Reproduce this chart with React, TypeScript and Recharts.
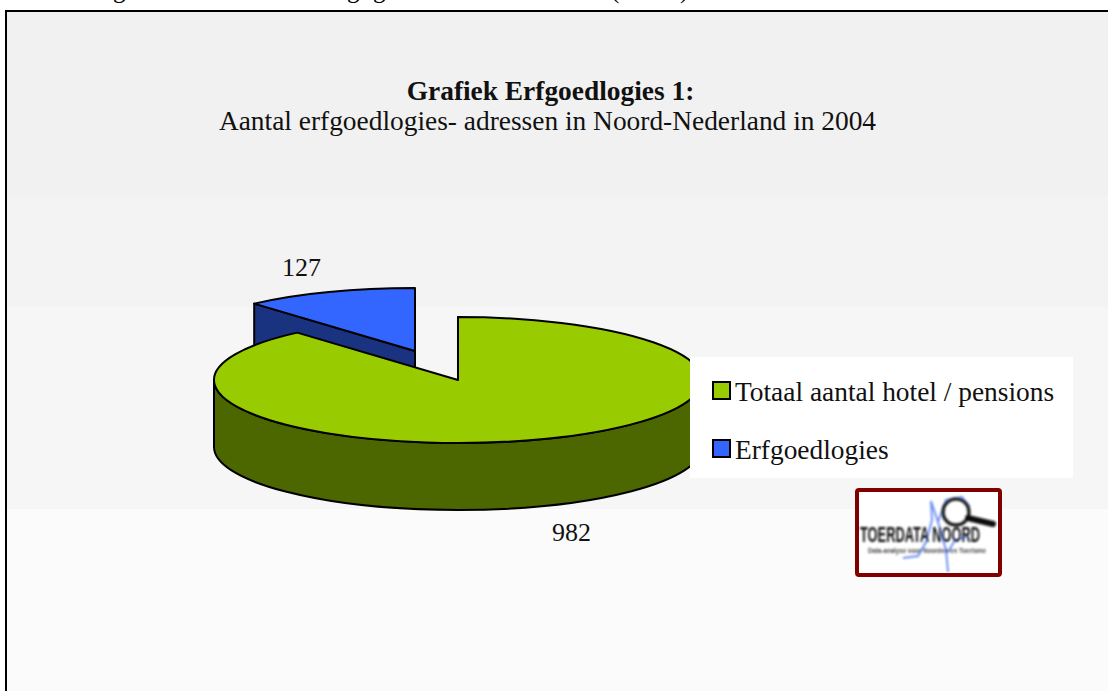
import React from 'react'
import { PieChart, Pie, Cell, Legend } from 'recharts'

const categories = ['Totaal aantal hotel / pensions', 'Erfgoedlogies']
const values = [982, 127]
const topColors = ['#99cc00', '#3366ff']
const sideColors = ['#4c6600', '#1a3380']

// erfgoedlogies is drawn first so the big slice covers its cut wall
const tableData = categories.map((name, i) => ({ name, value: values[i], top: topColors[i], side: sideColors[i] })).reverse()

const total = values.reduce((a, b) => a + b, 0)
const startAngle = 90 + (values[1] / total) * 360

const serif = '"Liberation Serif", "Times New Roman", serif'
const CX = 458
const CY = 380
const RX = 244
const SQUASH = 63 / 244
const DEPTH = 67
const EXPLODE = { Erfgoedlogies: { x: -43, y: -29 } } as Record<string, { x: number; y: number }>

const pt = (deg: number, cx: number, cy: number, r: number) => {
  const a = (deg * Math.PI) / 180
  return [cx + r * Math.cos(a), cy - r * SQUASH * Math.sin(a)]
}

function Slice3D(props: any) {
  const { cx, cy, outerRadius: r, startAngle: a1, endAngle: a2, payload } = props
  const off = EXPLODE[payload.name] || { x: 0, y: 0 }
  const x0 = cx + off.x
  const y0 = cy + off.y
  const ry = r * SQUASH
  const [sx, sy] = pt(a1, x0, y0, r)
  const [ex, ey] = pt(a2, x0, y0, r)
  const large = Math.abs(a1 - a2) > 180 ? 1 : 0
  const line = { stroke: '#000', strokeWidth: 2, strokeLinejoin: 'round' as const }

  const hi = Math.min(a1, 0)
  const lo = Math.max(a2, -180)
  let front = null
  if (hi > lo) {
    const [hx, hy] = pt(hi, x0, y0, r)
    const [lx, ly] = pt(lo, x0, y0, r)
    front = (
      <path
        d={`M${hx},${hy} A${r},${ry} 0 0 1 ${lx},${ly} L${lx},${ly + DEPTH} A${r},${ry} 0 0 0 ${hx},${hy + DEPTH} Z`}
        fill={payload.side}
        {...line}
      />
    )
  }
  // the cut face is only visible when it looks towards the viewer
  const cut = a1 > 90 && a1 < 180 ? (
    <path d={`M${sx},${sy} L${x0},${y0} L${x0},${y0 + DEPTH} L${sx},${sy + DEPTH} Z`} fill={payload.side} {...line} />
  ) : null

  return (
    <g>
      {cut}
      {front}
      <path d={`M${x0},${y0} L${sx},${sy} A${r},${ry} 0 ${large} 1 ${ex},${ey} Z`} fill={payload.top} {...line} />
    </g>
  )
}

function SliceLabel(props: any) {
  const { cx, cy, midAngle, outerRadius: r, value, name } = props
  const off = EXPLODE[name] || { x: 0, y: 0 }
  const a = (midAngle * Math.PI) / 180
  const x = cx + off.x + 1.32 * r * Math.cos(a)
  const isFront = Math.sin(a) < 0
  const y = cy + off.y - 1.43 * r * SQUASH * Math.sin(a) + (isFront ? DEPTH : 0)
  return (
    <text x={x} y={y} dy={1} textAnchor="middle" dominantBaseline="central" fontFamily={serif} fontSize={26} fill="#111">
      {value}
    </text>
  )
}

function LegendBox({ payload }: any) {
  const rows = [...(payload || [])].reverse()
  return (
    <div style={{ position: 'relative', width: 383, height: 121, background: '#fff', fontFamily: serif, fontSize: 27.4, color: '#111' }}>
      {rows.map((row: any, i: number) => (
        <div key={row.value} style={{ position: 'absolute', left: 22, top: 24 + i * 58.5, height: 18, display: 'flex', alignItems: 'center' }}>
          <span style={{ display: 'inline-block', width: 15, height: 15, background: row.color, border: '2px solid #000', marginRight: 4 }} />
          <span style={{ whiteSpace: 'nowrap', position: 'relative', top: 2 }}>{row.value}</span>
        </div>
      ))}
    </div>
  )
}

function Logo() {
  return (
    <g>
      <defs>
        <filter id="logoBlur" x="-5%" y="-5%" width="110%" height="110%">
          <feGaussianBlur stdDeviation="0.9" />
        </filter>
      </defs>
      <rect x={857} y={490} width={143} height={85} rx={2} fill="#fff" stroke="#800000" strokeWidth={4} />
      <g filter="url(#logoBlur)">
        <path
          d="M903,558 L918,556 L926,542 L932,520 L931,501 L938,522 L946,550 L948,572 M938,522 L946,500 L962,497 L970,507 M948,552 L955,540 L966,537"
          fill="none"
          stroke="#6f93f2"
          strokeWidth={2}
        />
        <circle cx={956} cy={512} r={13} fill="none" stroke="#222" strokeWidth={3.5} />
        <path d="M968,518 L993,524" stroke="#111" strokeWidth={6} strokeLinecap="round" />
        <text x={860} y={542} fontFamily='"Liberation Sans", sans-serif' fontWeight={700} fontSize={22} textLength={120} lengthAdjust="spacingAndGlyphs" fill="#111">
          TOERDATA NOORD
        </text>
        <text x={868} y={553} fontFamily='"Liberation Sans", sans-serif' fontWeight={700} fontSize={6.5} textLength={118} lengthAdjust="spacingAndGlyphs" fill="#444">
          Data-analyse voor Noorden en Toerisme
        </text>
      </g>
    </g>
  )
}

// only the descenders of the line above the frame fall inside the picture
const cutOffLine = [
  { ch: 'g', x: 113 },
  { ch: 'g', x: 347 },
  { ch: 'g', x: 373 },
  { ch: '(', x: 611 },
  { ch: ')', x: 680 },
]

export default function App() {
  return (
    <div style={{ position: 'absolute', left: 0, top: 0, width: 1108, height: 691, overflow: 'hidden', background: '#fff' }}>
      {cutOffLine.map((c, i) => (
        <span key={i} style={{ position: 'absolute', left: c.x, top: -24, fontFamily: serif, fontSize: 25, lineHeight: '28px', color: '#000' }}>
          {c.ch}
        </span>
      ))}
      <div
        style={{
          position: 'absolute',
          left: 5,
          top: 10,
          width: 1200,
          height: 800,
          border: '2px solid #000',
          background:
            'linear-gradient(to bottom, #f1f1f1 0, #f1f1f1 185px, #f3f3f3 185px, #f3f3f3 295px, #f6f6f6 295px, #f6f6f6 497px, #fbfbfb 497px)',
        }}
      />
      <div style={{ position: 'absolute', left: 0, top: 0 }}>
        <PieChart width={1108} height={691} margin={{ top: 0, right: 0, bottom: 0, left: 0 }}>
          <text x={550.5} y={100} textAnchor="middle" fontFamily={serif} fontSize={27.4} fontWeight={700} fill="#111">
            Grafiek Erfgoedlogies 1:
          </text>
          <text x={547.5} y={130} textAnchor="middle" fontFamily={serif} fontSize={27.4} fill="#111">
            Aantal erfgoedlogies- adressen in Noord-Nederland in 2004
          </text>
          <Logo />
          <Pie
            data={tableData}
            dataKey="value"
            nameKey="name"
            cx={CX}
            cy={CY}
            innerRadius={0}
            outerRadius={RX}
            startAngle={startAngle}
            endAngle={startAngle - 360}
            isAnimationActive={false}
            stroke="#000"
            labelLine={false}
            label={SliceLabel}
            shape={Slice3D}
          >
            {tableData.map((d) => (
              <Cell key={d.name} fill={d.top} />
            ))}
          </Pie>
          <Legend
            content={<LegendBox />}
            wrapperStyle={{ position: 'absolute', left: 690, top: 357, width: 383, height: 121, bottom: 'auto' }}
          />
        </PieChart>
      </div>
    </div>
  )
}
